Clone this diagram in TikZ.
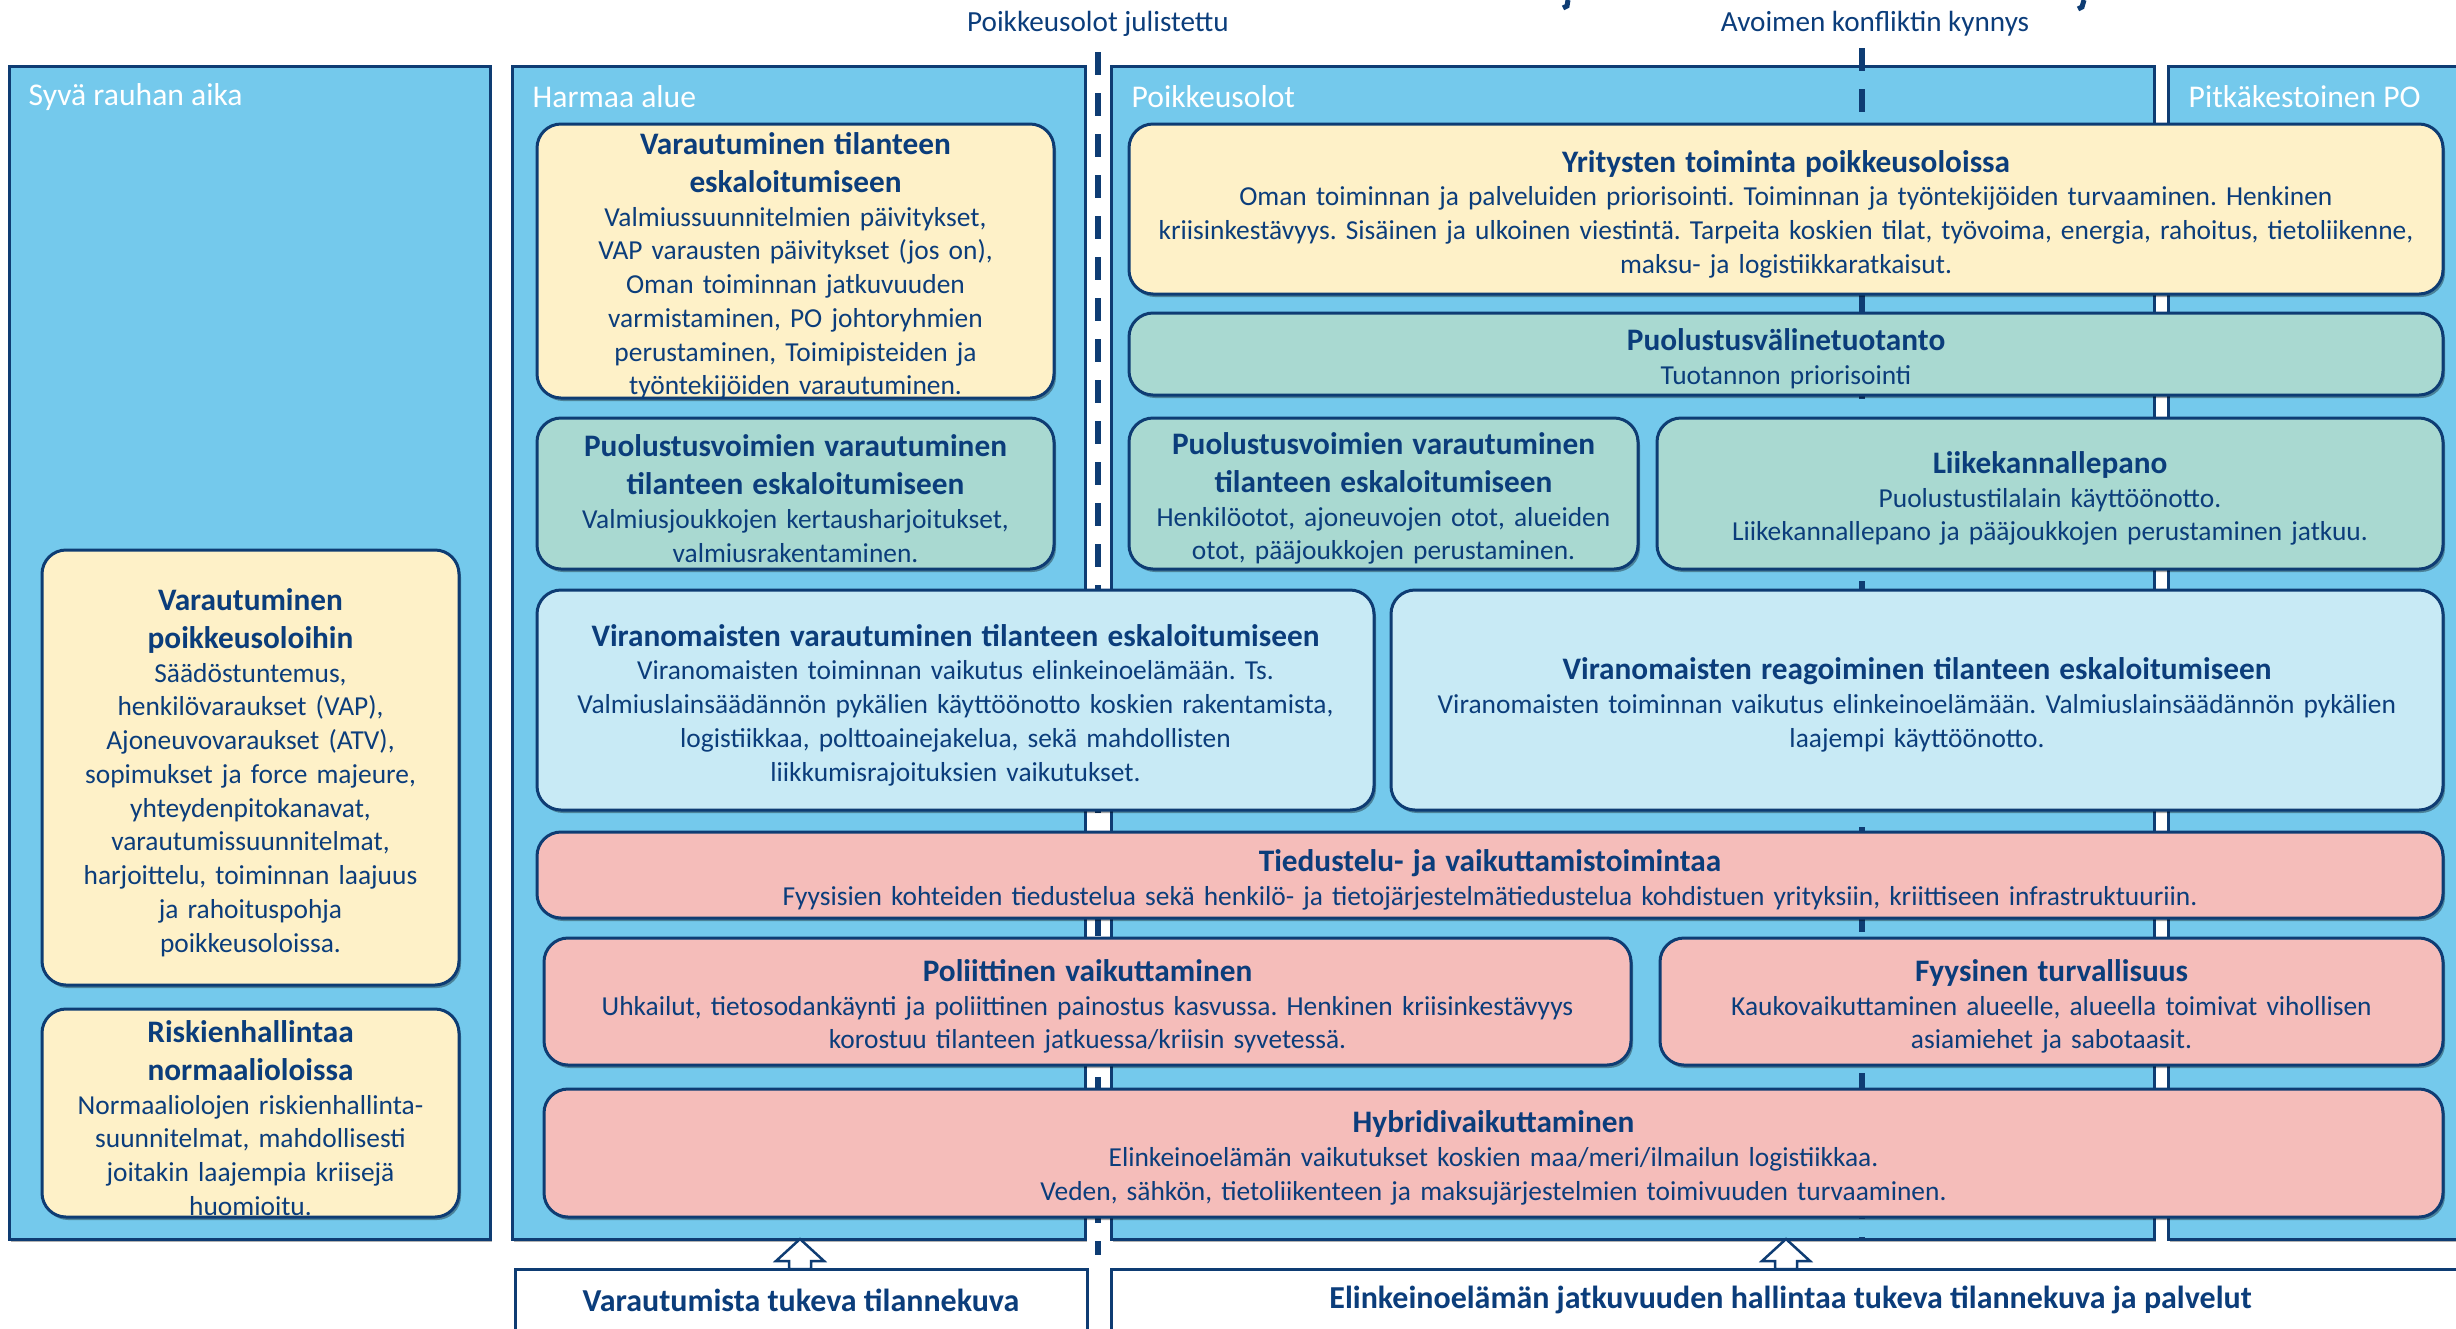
\documentclass[tikz,border=0pt]{standalone}
\usepackage{fontspec}
\setmainfont{Carlito}
\usetikzlibrary{shadows}
\frenchspacing
\definecolor{navy}{HTML}{0E3C73}
\definecolor{txt}{HTML}{0B3D7B}
\definecolor{sky}{HTML}{74C9EC}
\definecolor{yel}{HTML}{FEF1C8}
\definecolor{teal}{HTML}{A9D9D1}
\definecolor{lblue}{HTML}{C8EAF5}
\definecolor{pink}{HTML}{F5BDBA}
\newcommand{\ttlf}{\fontsize{8.9}{10.8}\selectfont\bfseries}
\newcommand{\bodyf}{\fontsize{7.8}{9.6}\selectfont}
\tikzset{
  panel/.style={draw=navy, line width=0.3mm, fill=sky, rectangle, inner sep=0pt,
    drop shadow={shadow xshift=0.2mm, shadow yshift=-0.25mm, fill=black, opacity=0.3}},
  plabel/.style={text=white, font=\fontsize{9}{11}\selectfont, inner sep=0pt},
  toplabel/.style={text=txt, font=\fontsize{8.3}{10}\selectfont, inner sep=0pt},
  bx/.style={draw=navy, line width=0.3mm, rounded corners=2.4mm, inner sep=0pt,
    align=center, text=txt, font=\bodyf, execute at end node={\par\vspace{-1mm}},
    drop shadow={shadow xshift=0.2mm, shadow yshift=-0.3mm, fill=black, opacity=0.35}},
  ybox/.style={bx, fill=yel},
  tbox/.style={bx, fill=teal},
  lbox/.style={bx, fill=lblue},
  pbox/.style={bx, fill=pink},
  botbox/.style={draw=navy, line width=0.3mm, fill=white, inner sep=0pt, text=txt,
    font=\fontsize{9.1}{11}\selectfont\bfseries},
  dashline/.style={draw=navy, line width=0.6mm, dash pattern=on 2.3mm off 1.8mm},
  hollow/.style={draw=navy, line width=0.25mm, fill=white}
}
\begin{document}
\begin{tikzpicture}[x=0.1mm,y=-0.1mm]
\useasboundingbox (0,0) rectangle (2456,1329);
\clip (0,0) rectangle (2456,1329);

% panels
\node[panel, minimum width=48.1mm, minimum height=117.3mm] (p1) at (249.5,652.5) {};
\node[panel, minimum width=57.3mm, minimum height=117.3mm] (p2) at (798.5,652.5) {};
\node[panel, minimum width=104.3mm, minimum height=117.3mm] (p3) at (1632.5,652.5) {};
\node[panel, minimum width=30.2mm, minimum height=117.3mm] (p4) at (2319,652.5) {};

\node[plabel, anchor=west] (l1) at (28,97) {Syvä rauhan aika};
\node[plabel, anchor=west] (l2) at (532,97) {Harmaa alue};
\node[plabel, anchor=west] (l3) at (1131,97) {Poikkeusolot};
\node[plabel, anchor=west] (l4) at (2188,97) {Pitkäkestoinen PO};

% top labels and dashed thresholds
\node[toplabel] (t1) at (1098,24) {Poikkeusolot julistettu};
\node[toplabel] (t2) at (1875,24) {Avoimen konfliktin kynnys};
\coordinate (d1t) at (1098,52);
\coordinate (d1b) at (1098,1255);
\coordinate (d2t) at (1862,48);
\coordinate (d2b) at (1862,1239);
\draw[dashline] (d1t) -- (d1b);
\draw[dashline] (d2t) -- (d2b);

% cut-off fragments at top edge
\draw[navy, line width=0.5mm] (1568,0) -- (1567,6) -- (1563,8);
\draw[navy, line width=0.5mm] (2084,0) -- (2082,7) -- (2078,9);

% left column
\node[ybox, minimum width=41.7mm, minimum height=43.5mm, text width=39mm] (b1) at (250.5,767.5)
 {{\ttlf Varautuminen\\poikkeusoloihin\par}Säädöstuntemus,\\henkilövaraukset (VAP),\\Ajoneuvovaraukset (ATV),\\sopimukset ja force majeure,\\yhteydenpitokanavat,\\varautumissuunnitelmat,\\harjoittelu, toiminnan laajuus\\ja rahoituspohja\\poikkeusoloissa.};
\node[ybox, minimum width=41.7mm, minimum height=20.8mm, text width=39mm] (b2) at (250.5,1113)
 {{\ttlf Riskienhallintaa\\normaalioloissa\par}Normaaliolojen riskienhallinta-\\suunnitelmat, mahdollisesti\\joitakin laajempia kriisejä\\huomioitu.};

% grey zone
\node[ybox, minimum width=51.7mm, minimum height=27.4mm, text width=49.5mm] (b3) at (795.5,261)
 {{\ttlf Varautuminen tilanteen\\eskaloitumiseen\par}Valmiussuunnitelmien päivitykset,\\VAP varausten päivitykset (jos on),\\Oman toiminnan jatkuvuuden\\varmistaminen, PO johtoryhmien\\perustaminen, Toimipisteiden ja\\työntekijöiden varautuminen.};
\node[tbox, minimum width=51.7mm, minimum height=15.1mm, text width=49.5mm] (b4) at (795.5,493.5)
 {{\ttlf Puolustusvoimien varautuminen\\tilanteen eskaloitumiseen\par}Valmiusjoukkojen kertausharjoitukset,\\valmiusrakentaminen.};

% exceptional conditions
\node[ybox, minimum width=131.4mm, minimum height=17mm, text width=129.5mm] (b5) at (1786,209)
 {{\ttlf Yritysten toiminta poikkeusoloissa\par}Oman toiminnan ja palveluiden priorisointi. Toiminnan ja työntekijöiden turvaaminen. Henkinen\\kriisinkestävyys. Sisäinen ja ulkoinen viestintä. Tarpeita koskien tilat, työvoima, energia, rahoitus, tietoliikenne,\\maksu- ja logistiikkaratkaisut.};
\node[tbox, minimum width=131.4mm, minimum height=8.2mm, text width=129mm] (b6) at (1786,354)
 {{\ttlf Puolustusvälinetuotanto\par}Tuotannon priorisointi};
\node[tbox, minimum width=50.9mm, minimum height=15.1mm, text width=49.5mm] (b7) at (1383.5,493.5)
 {{\ttlf Puolustusvoimien varautuminen\\tilanteen eskaloitumiseen\par}Henkilöotot, ajoneuvojen otot, alueiden\\otot, pääjoukkojen perustaminen.};
\node[tbox, minimum width=78.6mm, minimum height=15.1mm, text width=76mm] (b8) at (2050,493.5)
 {{\ttlf Liikekannallepano\par}Puolustustilalain käyttöönotto.\\Liikekannallepano ja pääjoukkojen perustaminen jatkuu.};

% authorities
\node[lbox, minimum width=83.7mm, minimum height=22mm, text width=82mm] (b9) at (955.5,700)
 {{\ttlf Viranomaisten varautuminen tilanteen eskaloitumiseen\par}Viranomaisten toiminnan vaikutus elinkeinoelämään. Ts.\\Valmiuslainsäädännön pykälien käyttöönotto koskien rakentamista,\\logistiikkaa, polttoainejakelua, sekä mahdollisten\\liikkumisrajoituksien vaikutukset.};
\node[lbox, minimum width=105.2mm, minimum height=22mm, text width=103mm] (b10) at (1917,700)
 {{\ttlf Viranomaisten reagoiminen tilanteen eskaloitumiseen\par}Viranomaisten toiminnan vaikutus elinkeinoelämään. Valmiuslainsäädännön pykälien\\laajempi käyttöönotto.};

% threats
\node[pbox, minimum width=190.6mm, minimum height=8.6mm, text width=188mm] (b11) at (1490,875)
 {{\ttlf Tiedustelu- ja vaikuttamistoimintaa\par}Fyysisien kohteiden tiedustelua sekä henkilö- ja tietojärjestelmätiedustelua kohdistuen yrityksiin, kriittiseen infrastruktuuriin.};
\node[pbox, minimum width=108.7mm, minimum height=12.7mm, text width=106mm] (b12) at (1087.5,1001.5)
 {{\ttlf Poliittinen vaikuttaminen\par}Uhkailut, tietosodankäynti ja poliittinen painostus kasvussa. Henkinen kriisinkestävyys\\korostuu tilanteen jatkuessa/kriisin syvetessä.};
\node[pbox, minimum width=78.3mm, minimum height=12.7mm, text width=76mm] (b13) at (2051.5,1001.5)
 {{\ttlf Fyysinen turvallisuus\par}Kaukovaikuttaminen alueelle, alueella toimivat vihollisen\\asiamiehet ja sabotaasit.};
\node[pbox, minimum width=189.9mm, minimum height=12.8mm, text width=187mm] (b14) at (1493.5,1153)
 {{\ttlf Hybridivaikuttaminen\par}Elinkeinoelämän vaikutukset koskien maa/meri/ilmailun logistiikkaa.\\Veden, sähkön, tietoliikenteen ja maksujärjestelmien toimivuuden turvaaminen.};

% bottom boxes
\node[botbox, minimum width=57.2mm, minimum height=6.2mm] (s1) at (801,1300) {Varautumista tukeva tilannekuva};
\node[botbox, minimum width=135.9mm, minimum height=6.2mm] (s2) at (1790.5,1300) {Elinkeinoelämän jatkuvuuden hallintaa tukeva tilannekuva ja palvelut};

% hollow up arrows
\draw[hollow] (800,1239) -- (824,1261) -- (811,1261) -- (811,1269) -- (789,1269) -- (789,1261) -- (776,1261) -- cycle;
\draw[hollow] (1786,1239) -- (1810,1261) -- (1797,1261) -- (1797,1269) -- (1775,1269) -- (1775,1261) -- (1762,1261) -- cycle;
\end{tikzpicture}
\end{document}
